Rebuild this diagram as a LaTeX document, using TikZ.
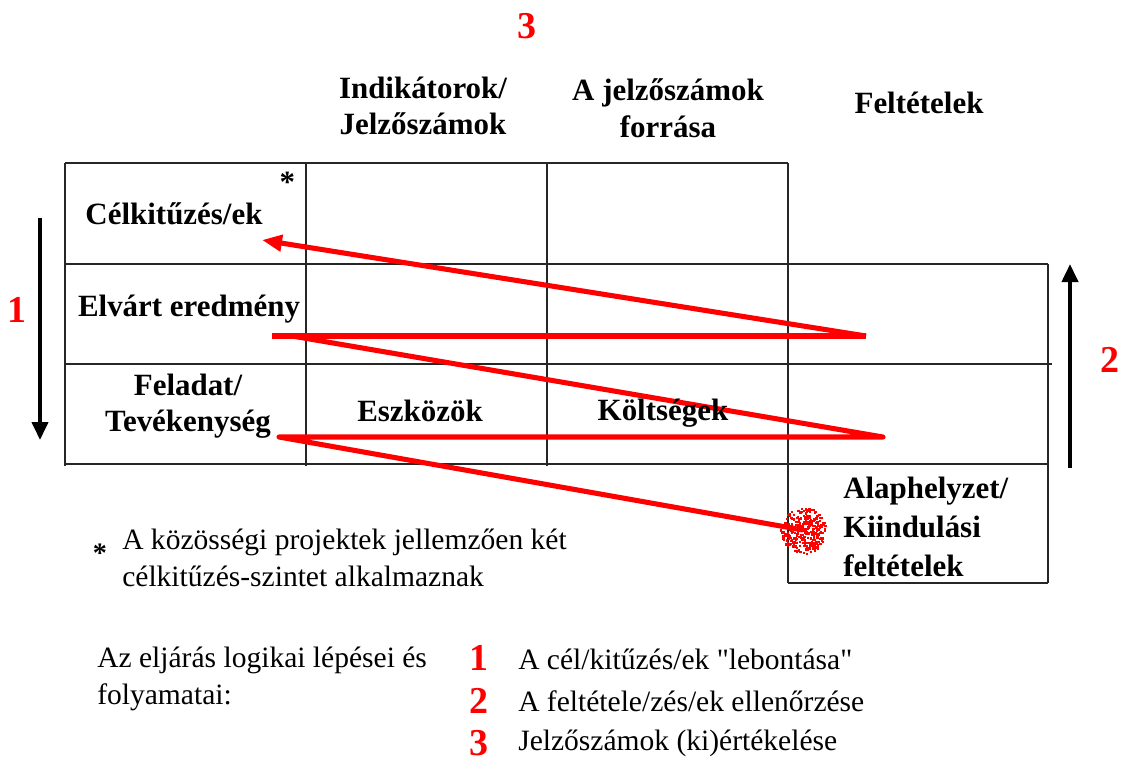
\documentclass[tikz,border=0pt]{standalone}
\usepackage{fontspec}
\setmainfont{Liberation Serif}
\usetikzlibrary{arrows.meta, positioning}

\begin{document}
\begin{tikzpicture}[
  x=0.025cm, y=-0.025cm,
  grid/.style={line width=1.3pt, black!85},
  hdr/.style={font=\fontsize{22}{26}\selectfont\bfseries, align=center, inner sep=0},
  note/.style={font=\fontsize{21}{26.5}\selectfont, align=left, inner sep=0, anchor=west},
  num/.style={font=\fontsize{27}{30}\selectfont\bfseries, text=red, inner sep=0},
  zig/.style={red, line width=3.6pt, line join=round},
  arr/.style={-{Triangle[length=4.5mm, width=4mm]}, line width=2.8pt}
]
  \useasboundingbox (0,0) rectangle (1122,762);

  % Logframe grid
  \draw[grid] (65,163) -- (788,163);
  \draw[grid] (65,264) -- (1048,264);
  \draw[grid] (65,364) -- (1052,364);
  \draw[grid] (65,464) -- (1048,464);
  \draw[grid] (788,583) -- (1048,583);
  \foreach \x in {65,306,547}
    \draw[grid] (\x,163) -- (\x,466);
  \draw[grid] (788,163) -- (788,583);
  \draw[grid] (1048,264) -- (1048,583);

  % Zigzag points
  \coordinate (goalTip) at (262,240);
  \coordinate (resTurn) at (866,336);
  \coordinate (resL) at (272,336);
  \coordinate (resD) at (292,336);
  \coordinate (taskTurn) at (883,437);
  \coordinate (taskL) at (279,437);
  \coordinate (blob) at (803,530);

  % Red zigzag
  \draw[zig] (blob) -- (taskL) -- (taskTurn) -- (resD);
  \draw[zig] (resL) -- (resTurn);
  \draw[zig, -{Triangle[length=5mm, width=4mm]}] (resTurn) -- (goalTip);

  % Spray blob
  \pgfmathsetseed{7}
  \foreach \k in {1,...,320} {
    \pgfmathsetmacro\ra{23*sqrt(rnd)}
    \pgfmathsetmacro\an{360*rnd}
    \fill[red] (blob) ++(\an:\ra) rectangle ++(2.2,2.2);
  }

  % Column headers
  \node[num] (stepC) at (527,26) {3};
  \node[hdr] (indic) at (423,106) {Indikátorok/\\Jelzőszámok};
  \node[hdr] (source) at (668,108) {A jelzőszámok\\forrása};
  \node[hdr] (cond) at (919,103) {Feltételek};

  % Row labels
  \node[hdr] (goal) at (174,214) {Célkitűzés/ek\rlap{\smash{\hspace{0.55em}\raisebox{23pt}{*}}}};
  \node[hdr] (result) at (189,309) {Elvárt eredmény};
  \node[hdr] (task) at (188,406) {Feladat/\\Tevékenység};
  \node[hdr] (means) at (420,411) {Eszközök};
  \node[hdr] (costs) at (663,413) {Költségek};
  \node[hdr, align=left, anchor=west, font=\fontsize{22}{27.5}\selectfont\bfseries] (base) at (843,527) {Alaphelyzet/\\Kiindulási\\feltételek};

  % Side arrows
  \coordinate (dTop) at (40,218);
  \coordinate (dBot) at (40,440);
  \coordinate (uBot) at (1070,468);
  \coordinate (uTop) at (1070,264);
  \draw[arr] (dTop) -- (dBot);
  \draw[arr] (uBot) -- (uTop);
  \node[num] (stepA) at (17,310) {1};
  \node[num] (stepB) at (1110,360) {2};

  % Footnote
  \node[font=\fontsize{20}{20}\selectfont\bfseries, inner sep=0] (fstar) at (100,553) {*};
  \node[note] (fnote) at (122,558) {A közösségi projektek jellemzően két\\célkitűzés-szintet alkalmaznak};

  % Legend
  \node[note] (steps) at (97,679) {Az eljárás logikai lépései és\\folyamatai:};
  \node[num] (l1) at (479,658) {1};
  \node[num] (l2) at (479,701) {2};
  \node[num] (l3) at (479,743) {3};
  \node[note] (t1) at (518,659) {A cél/kitűzés/ek \textquotedbl lebontása\textquotedbl};
  \node[note] (t2) at (518,701) {A feltétele/zés/ek ellenőrzése};
  \node[note] (t3) at (518,743) {Jelzőszámok (ki)értékelése};
\end{tikzpicture}
\end{document}
